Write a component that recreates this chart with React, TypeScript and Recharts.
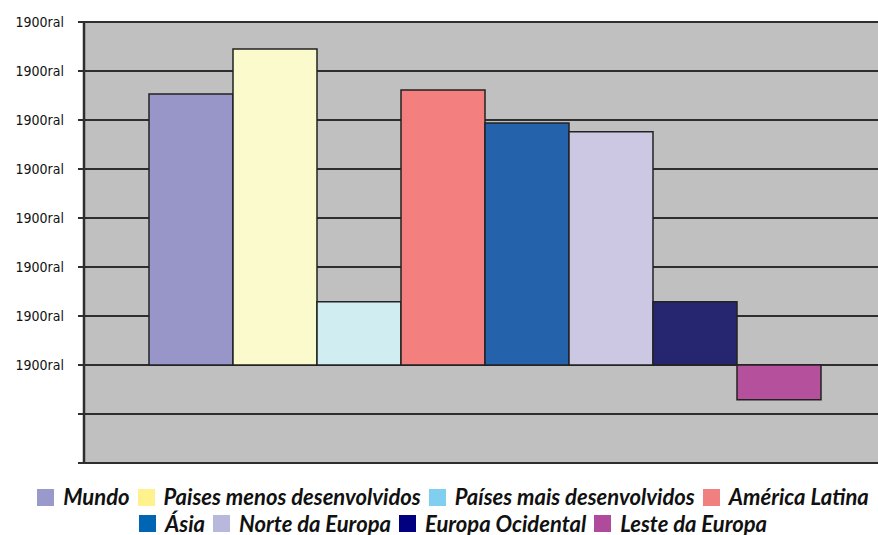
import { BarChart, Bar, XAxis, YAxis, CartesianGrid, Legend } from "recharts";

const regions = [
  "Mundo",
  "Paises menos desenvolvidos",
  "Países mais desenvolvidos",
  "América Latina",
  "Ásia",
  "Norte da Europa",
  "Europa Ocidental",
  "Leste da Europa",
];
const values = [5.53, 6.45, 1.29, 5.61, 4.94, 4.76, 1.29, -0.71];
const barColors = ["#9896c8", "#fafacc", "#d0eef2", "#f47f7f", "#2462ac", "#ccc8e4", "#262670", "#b4509c"];
const legendColors = ["#9999cc", "#fff18c", "#80cff0", "#f08080", "#0066b3", "#b8b8dc", "#000080", "#b04a9c"];
const yTicks = [-2, -1, 0, 1, 2, 3, 4, 5, 6, 7];
const tickLabel = "1900ral";

const row: Record<string, number | string> = { name: "" };
regions.forEach((r, i) => (row[r] = values[i]));
const chartData = [row];

function LegendBox() {
  const item = (i: number) => (
    <span key={i} style={{ display: "inline-flex", alignItems: "center", margin: "0 4px" }}>
      <span style={{ width: 17, height: 17, background: legendColors[i], display: "inline-block", marginRight: 9 }} />
      <span>{regions[i]}</span>
    </span>
  );
  const style = {
    fontFamily: "Lato, sans-serif",
    fontStyle: "italic",
    fontWeight: 700,
    fontSize: 22,
    color: "#111",
    textAlign: "center" as const,
    lineHeight: "26px",
    width: 878,
    whiteSpace: "nowrap" as const,
  };
  return (
    <div style={style}>
      <div>{[0, 1, 2, 3].map(item)}</div>
      <div>{[4, 5, 6, 7].map(item)}</div>
    </div>
  );
}

export default function App() {
  return (
    <div style={{ position: "fixed", top: 0, left: 0, width: 878, height: 535, overflow: "hidden", background: "#fff" }}>
      <BarChart
        width={878}
        height={535}
        data={chartData}
        margin={{ top: 22, right: -8, left: 0, bottom: 19 }}
        barCategoryGap={65}
        barGap={0}
      >
        <CartesianGrid vertical={false} stroke="#2e2e2e" strokeWidth={2.2} fill="#c0c0c0" fillOpacity={1} />
        <XAxis dataKey="name" tick={false} axisLine={{ stroke: "#2e2e2e", strokeWidth: 2 }} tickLine={false} height={0} />
        <YAxis
          width={84}
          domain={[-2, 7]}
          ticks={yTicks}
          interval={0}
          tickFormatter={(v: number) => (v >= 0 ? tickLabel : "")}
          axisLine={{ stroke: "#2e2e2e", strokeWidth: 2.5 }}
          tickLine={{ stroke: "#2e2e2e", strokeWidth: 2 }}
          tickSize={6}
          tickMargin={14}
          tick={{ fill: "#111", fontSize: 14, fontFamily: "'Liberation Sans Narrow', 'DejaVu Sans Condensed', sans-serif" }}
        />
        <Legend
          verticalAlign="bottom"
          wrapperStyle={{ top: 484, bottom: "auto", left: 14, width: 878 }}
          content={() => <LegendBox />}
        />
        {regions.map((r, i) => (
          <Bar key={r} dataKey={r} fill={barColors[i]} stroke="#222" strokeWidth={1.5} isAnimationActive={false} />
        ))}
      </BarChart>
    </div>
  );
}
